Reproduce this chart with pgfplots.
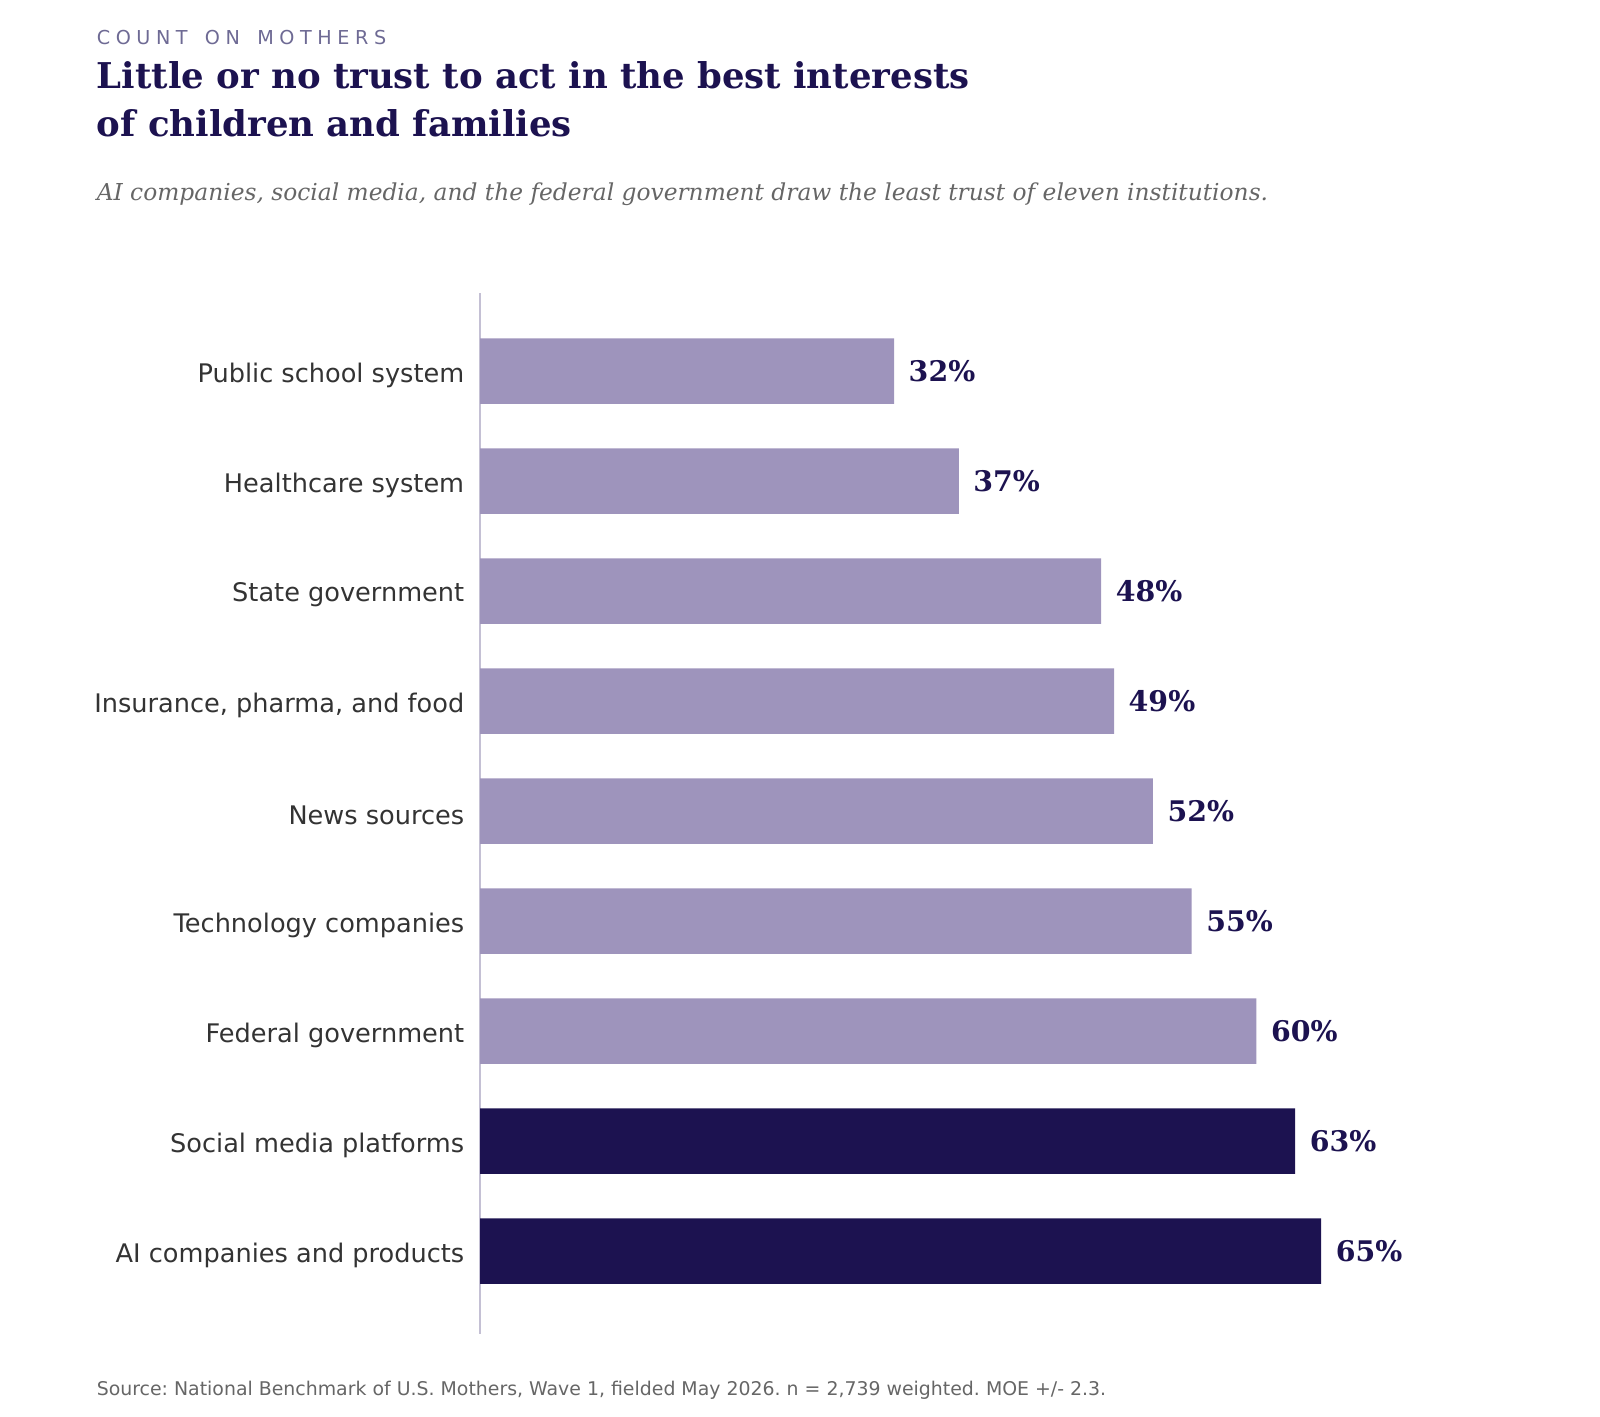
\documentclass[border=0pt]{standalone}
\usepackage{fontspec}
\setmainfont{DejaVu Sans}
\newfontfamily\serifb{DejaVu Serif}
\usepackage{pgfplots}
\pgfplotsset{compat=1.18}
\frenchspacing
\definecolor{navy}{HTML}{1C1250}
\definecolor{lav}{HTML}{9E94BC}
\definecolor{kicker}{HTML}{6E6A94}
\definecolor{lbl}{HTML}{333333}
\definecolor{src}{HTML}{666666}
\definecolor{axl}{HTML}{C4C0D4}
\newcommand\ls{\hspace{0.29em}}
\newcommand\ws{\hspace{0.9em}}
\begin{document}
\begin{tikzpicture}
\node[anchor=base west, inner sep=0pt, text=kicker, font=\fontsize{9.6}{11}\selectfont] at (48.2pt,-22.5pt) {C\ls O\ls U\ls N\ls T\ws O\ls N\ws M\ls O\ls T\ls H\ls E\ls R\ls S};
\node[anchor=base west, inner sep=0pt, text=navy, font=\serifb\bfseries\fontsize{17.75}{20}\selectfont] at (48.2pt,-44.5pt) {Little or no trust to act in the best interests};
\node[anchor=base west, inner sep=0pt, text=navy, font=\serifb\bfseries\fontsize{17.75}{20}\selectfont] at (48.2pt,-68.5pt) {of children and families};
\node[anchor=base west, inner sep=0pt, text=src, font=\serifb\itshape\fontsize{11.66}{13}\selectfont] at (48.2pt,-100.5pt) {AI companies, social media, and the federal government draw the least trust of eleven institutions.};
\node[anchor=base west, inner sep=0pt, text=src, font=\fontsize{9.45}{11}\selectfont] at (48.2pt,-697.5pt) {Source: National Benchmark of U.S. Mothers, Wave 1, fielded May 2026. n = 2,739 weighted. MOE +/- 2.3.};
\begin{axis}[
  at={(240pt,-666.8pt)}, anchor=south west,
  scale only axis, width=517.6pt, height=520.3pt,
  xmin=0, xmax=80, ymin=-0.75, ymax=8.71,
  axis x line=none,
  axis y line*=left,
  y axis line style={draw=axl, line width=1pt},
  xbar, bar width=32.75pt, bar shift=0pt,
  ytick={0,...,8},
  yticklabels={AI companies and products, Social media platforms, Federal government, Technology companies, News sources, {Insurance, pharma, and food}, State government, Healthcare system, Public school system},
  major tick length=0pt,
  yticklabel style={font=\fontsize{12.8}{14}\selectfont, text=lbl, inner sep=0pt, xshift=-7.7pt, yshift=-2pt},
  nodes near coords={\pgfmathprintnumber[assume math mode=true]{\pgfplotspointmeta}\%},
  nodes near coords style={font=\serifb\bfseries\fontsize{14.2}{16}\selectfont, text=navy, anchor=west, xshift=3.8pt},
  point meta=x,
  clip=false,
]
\addplot[draw=none, fill=lav] coordinates {(60,2) (55,3) (52,4) (49,5) (48,6) (37,7) (32,8)};
\addplot[draw=none, fill=navy] coordinates {(65,0) (63,1)};
\end{axis}
\pgfresetboundingbox
\path[use as bounding box] (0,0) rectangle (800pt,-708.5pt);
\end{tikzpicture}
\end{document}
